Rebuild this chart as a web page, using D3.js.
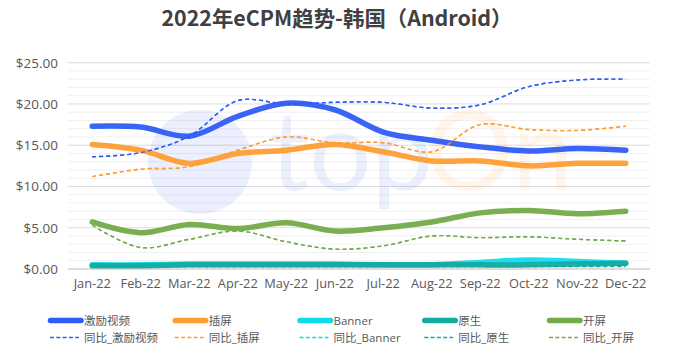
<!DOCTYPE html>
<html><head><meta charset="utf-8">
<script src="https://cdn.jsdelivr.net/npm/d3@7"></script>
<style>body{margin:0;background:#fff}svg{display:block;font-family:"Open Sans","Noto Sans CJK SC",sans-serif}</style>
</head><body><svg id="c" width="675" height="356"></svg>
<script>
const months = ["Jan-22","Feb-22","Mar-22","Apr-22","May-22","Jun-22","Jul-22","Aug-22","Sep-22","Oct-22","Nov-22","Dec-22"];
const yTicks = [0,5,10,15,20,25];
const seriesNames = ["激励视频","插屏","Banner","原生","开屏"];
const reward   = [17.3,17.2,16.1,18.5,20.1,19.3,16.6,15.6,14.8,14.3,14.6,14.4];
const inter    = [15.1,14.4,12.8,14.0,14.4,15.1,14.2,13.1,13.1,12.5,12.8,12.8];
const banner   = [0.5,0.5,0.6,0.6,0.6,0.6,0.5,0.5,0.8,1.1,0.9,0.7];
const native   = [0.4,0.4,0.5,0.5,0.5,0.5,0.5,0.5,0.5,0.5,0.6,0.7];
const splash   = [5.7,4.4,5.4,4.9,5.6,4.6,5.0,5.7,6.8,7.1,6.7,7.0];
const yoyReward = [13.6,14.1,16.1,20.4,20.0,20.2,20.2,19.5,19.9,22.1,22.9,23.0];
const yoyInter  = [11.2,12.1,12.4,14.4,16.0,15.3,15.3,14.2,17.5,16.9,16.8,17.3];
const yoyBanner = [0.3,0.3,0.3,0.3,0.3,0.3,0.3,0.3,0.4,0.4,0.4,0.4];
const yoyNative = [0.3,0.3,0.3,0.3,0.3,0.3,0.3,0.3,0.3,0.3,0.3,0.3];
const yoySplash = [5.3,2.6,3.6,4.6,3.3,2.4,2.8,4.0,3.8,3.9,3.6,3.4];
const colors = ["#2e5cf5","#ff9d33","#10dcf0","#14aaa0","#72ab48"];

const svg = d3.select("#c");
const m = {l:68, r:25};
const W = 675;
const x = d3.scaleBand().domain(months).range([m.l, W-m.r]);
const y = d3.scaleLinear().domain([0,25]).range([269, 62.7]);
const cx = d => x(d) + x.bandwidth()/2;

// title
const title = svg.append("text").attr("x",337).attr("y",25.5).attr("text-anchor","middle")
  .attr("font-size",21).attr("font-weight","bold").attr("fill","#404040")
  .attr("font-family","'Noto Sans CJK SC','Open Sans',sans-serif")
  .text("2022年eCPM趋势-韩国（Android）");
const tl = title.node().getComputedTextLength();
if (tl > 0) title.attr("textLength", 351).attr("lengthAdjust","spacingAndGlyphs");

// minor grid
const minor = d3.range(1,25).filter(v=>v%5!==0);
svg.append("g").selectAll("line").data(minor).join("line")
  .attr("x1",m.l).attr("x2",W-m.r).attr("y1",d=>y(d)).attr("y2",d=>y(d))
  .attr("stroke","#f0f0f0").attr("stroke-width",1);
// major grid
svg.append("g").selectAll("line").data(yTicks).join("line")
  .attr("x1",m.l).attr("x2",W-m.r).attr("y1",d=>y(d)).attr("y2",d=>y(d))
  .attr("stroke",d=>d===0?"#d0d0d0":"#dcdcdc").attr("stroke-width",d=>d===0?1.5:1);

// watermark
const wm = svg.append("g").attr("opacity",0.09);
wm.append("circle").attr("cx",200).attr("cy",162).attr("r",52).attr("fill","#2e5cf5");
wm.append("text").attr("x",270).attr("y",190).attr("font-size",110).attr("fill","#2e5cf5").attr("font-family","Lato, sans-serif").text("top");
wm.append("text").attr("x",425).attr("y",190).attr("font-size",110).attr("fill","#ff9d33").attr("font-family","Lato, sans-serif").text("On");

// axes labels
const yAxis = d3.axisLeft(y).tickValues(yTicks).tickSize(0).tickPadding(10).tickFormat(d=>"$"+d3.format(".2f")(d));
svg.append("g").attr("transform",`translate(${m.l},0)`).call(yAxis)
  .call(g=>g.select(".domain").remove())
  .selectAll("text").attr("font-size",13.5).attr("fill","#595959").attr("font-family","Open Sans, sans-serif");
const xAxis = d3.axisBottom(x).tickSize(0).tickPadding(10);
svg.append("g").attr("transform",`translate(0,269)`).call(xAxis)
  .call(g=>g.select(".domain").remove())
  .selectAll("text").attr("font-size",12.8).attr("fill","#595959").attr("font-family","Open Sans, sans-serif");

const line = d3.line().x((d,i)=>cx(months[i])).y(d=>y(d)).curve(d3.curveCatmullRom.alpha(0.5));
const mains = [reward, inter, banner, native, splash];
const yoys = [yoyReward, yoyInter, yoyBanner, yoyNative, yoySplash];

yoys.forEach((s,i)=>{
  svg.append("path").attr("d",line(s)).attr("fill","none").attr("stroke",colors[i])
    .attr("stroke-width",1.4).attr("stroke-dasharray","4,3");
});
mains.forEach((s,i)=>{
  svg.append("path").attr("d",line(s)).attr("fill","none").attr("stroke",colors[i])
    .attr("stroke-width",5.5).attr("stroke-linecap","round").attr("opacity",0.95);
});
yoys.forEach((s,i)=>{
  if(i<2 || i==4) svg.append("path").attr("d",line(s)).attr("fill","none").attr("stroke",colors[i])
    .attr("stroke-width",1.4).attr("stroke-dasharray","4,3").attr("opacity",0.9);
});

// legend
const lg = svg.append("g");
const colX = d3.range(5).map(i=>48 + i*124.75);
seriesNames.forEach((n,i)=>{
  lg.append("line").attr("x1",colX[i]+2.5).attr("x2",colX[i]+33).attr("y1",320.5).attr("y2",320.5)
    .attr("stroke",colors[i]).attr("stroke-width",5.5).attr("stroke-linecap","round");
  lg.append("text").attr("x",colX[i]+36).attr("y",325).attr("font-size",11.5).attr("fill","#595959").text(n);
  lg.append("line").attr("x1",colX[i]+2).attr("x2",colX[i]+31).attr("y1",337.5).attr("y2",337.5)
    .attr("stroke",colors[i]).attr("stroke-width",1.4).attr("stroke-dasharray","4,2.3");
  lg.append("text").attr("x",colX[i]+36).attr("y",342).attr("font-size",11.5).attr("fill","#595959").text("同比_"+n);
});
</script></body></html>
